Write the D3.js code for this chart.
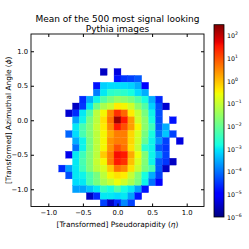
<!DOCTYPE html>
<html>
<head>
<meta charset="utf-8">
<script src="https://cdn.jsdelivr.net/npm/d3@7"></script>
<style>
  body { margin: 0; background: #fff; }
  text { font-family: "DejaVu Sans", sans-serif; fill: #000; }
</style>
</head>
<body>
<svg id="chart" width="249" height="249"></svg>
<script>
// bin centres of the 25x25 jet image
const etaCenters = [-1.2, -1.1, -1.0, -0.9, -0.8, -0.7, -0.6, -0.5, -0.4, -0.3, -0.2, -0.1, 0.0,
  0.1, 0.2, 0.3, 0.4, 0.5, 0.6, 0.7, 0.8, 0.9, 1.0, 1.1, 1.2];
const phiCenters = [1.2, 1.1, 1.0, 0.9, 0.8, 0.7, 0.6, 0.5, 0.4, 0.3, 0.2, 0.1, 0.0,
  -0.1, -0.2, -0.3, -0.4, -0.5, -0.6, -0.7, -0.8, -0.9, -1.0, -1.1, -1.2];

// log10 of the mean pixel intensity, rows top (phi = 1.2) to bottom, null = empty pixel
const n = null;
const meanLog10 = [
  [n,n,n,n,n,n,n,n,n,n,n,n,n,n,n,n,n,n,n,n,n,n,n,n,n],
  [n,n,n,n,n,n,n,n,n,n,n,n,n,n,n,n,n,n,n,n,n,n,n,n,n],
  [n,n,n,n,n,n,n,n,n,n,n,n,n,n,n,n,n,n,n,n,n,n,n,n,n],
  [n,n,n,n,n,n,n,n,n,n,n,n,n,n,n,n,n,n,n,n,n,n,n,n,n],
  [n,n,n,n,n,n,n,n,n,n,n,n,n,n,n,n,n,n,n,n,n,n,n,n,n],
  [n,n,n,n,n,n,n,n,n,n,-5.5,n,-5.3,n,n,n,n,n,n,n,n,n,n,n,n],
  [n,n,n,n,n,n,n,n,n,n,n,n,-4.8,-4.5,-4.4,-4.2,n,n,n,n,n,n,n,n,n],
  [n,n,n,n,n,n,n,n,n,-4.8,-3.2,-3.1,-3.1,-3.1,-3.2,-3.5,-5.0,n,n,n,n,n,n,n,n],
  [n,n,n,n,n,n,n,n,n,-3.9,-3.0,-2.6,-2.5,-2.6,-2.8,-3.1,-3.5,n,n,n,n,n,n,n,n],
  [n,n,n,n,n,n,n,-4.6,-3.5,-2.9,-2.2,-1.8,-1.5,-1.6,-1.8,-2.2,-2.8,-3.5,-4.6,n,n,n,n,n,n],
  [n,n,n,n,n,n,-5.5,-4.5,-3.0,-1.9,-1.3,-1.0,-0.4,-0.5,-0.9,-1.6,-2.2,-3.2,-4.3,-5.4,n,n,n,n,n],
  [n,n,n,n,n,-5.4,-4.6,-3.0,-2.2,-1.1,-0.5,0.5,1.3,0.8,-0.4,-1.0,-1.8,-2.9,-4.3,n,n,n,n,n,n],
  [n,n,n,n,n,n,-3.6,-2.9,-1.8,-1.1,-0.3,0.7,2.3,1.5,0.3,-0.9,-1.6,-2.8,-4.3,n,-4.8,n,n,n,n],
  [n,n,n,n,n,n,-3.0,-2.3,-1.7,-1.0,-0.4,0.5,1.5,1.0,0.3,-0.5,-1.6,-2.4,-4.2,-3.5,n,n,n,n,n],
  [n,n,n,n,n,-4.1,-3.1,-2.3,-1.7,-1.1,-0.5,0.2,0.6,0.6,-0.2,-0.8,-1.8,-2.8,-4.0,-3.3,-4.4,n,n,n,n],
  [n,n,n,n,n,n,-3.5,-2.9,-1.8,-1.1,-0.5,0.4,0.6,0.6,-0.2,-0.9,-2.0,-2.9,-3.7,-4.4,n,-5.3,n,n,n],
  [n,n,n,n,n,n,-4.0,-2.9,-1.8,-1.1,-0.5,0.4,1.0,0.7,-0.3,-1.0,-2.6,-2.9,-4.2,-4.5,n,n,n,n,n],
  [n,n,n,n,n,-5.2,-3.0,-2.4,-1.7,-1.1,-0.1,0.6,1.6,1.5,0.2,-0.6,-1.7,-2.9,-3.6,-4.4,n,n,n,n,n],
  [n,n,n,n,n,n,-3.0,-2.3,-1.7,-1.0,-0.5,0.6,1.5,1.3,0.0,-0.8,-1.7,-2.9,-4.2,-4.5,-5.5,n,n,n,n],
  [n,n,n,n,-4.6,-3.6,-3.0,-2.4,-1.7,-1.1,-0.8,-0.1,0.7,0.5,-0.3,-1.0,-1.8,-2.3,-4.2,-5.5,n,n,n,n,n],
  [n,n,n,n,n,-4.3,-3.0,-2.9,-2.3,-1.8,-1.1,-0.5,-0.3,-0.4,-1.0,-1.7,-2.8,-3.5,-4.4,n,n,n,n,n,n],
  [n,n,n,n,n,n,-3.1,-3.0,-2.3,-1.8,-1.3,-1.0,-0.6,-0.9,-1.3,-1.8,-2.9,-4.0,-5.0,n,n,n,n,n,n],
  [n,n,n,n,n,n,-3.6,-3.6,-3.3,-3.0,-2.5,-2.8,-2.2,-2.8,-3.0,-3.6,-4.8,n,n,n,n,n,n,n,n],
  [n,n,n,n,n,n,n,n,-5.5,-4.6,-3.0,-3.0,-3.1,-3.0,-3.6,-4.8,n,n,n,n,n,n,n,n,n],
  [n,n,n,n,n,n,n,n,n,n,-4.4,-5.5,-4.6,-3.8,-4.4,n,n,n,n,n,n,n,n,n,n]
];

const xTicks = [-1.0, -0.5, 0.0, 0.5, 1.0];
const yTicks = [-1.0, -0.5, 0.0, 0.5, 1.0];
const cbarTicks = [1e-6, 1e-5, 1e-4, 1e-3, 1e-2, 1e-1, 1e0, 1e1, 1e2];
const cbarMin = 1e-6, cbarMax = 305;
const binWidth = 0.1;

const svg = d3.select("#chart");
svg.append("rect").attr("width", 249).attr("height", 249).attr("fill", "#fff");

var plot = { left: 31, right: 204, top: 34, bottom: 206.5 };

var x = d3.scaleLinear().domain([-1.25, 1.25]).range([plot.left, plot.right]);
var y = d3.scaleLinear().domain([-1.25, 1.25]).range([plot.bottom, plot.top]);

// matplotlib "jet"
const jetR = d3.scaleLinear().domain([0, 0.35, 0.66, 0.89, 1]).range([0, 0, 1, 1, 0.5]).clamp(true);
const jetG = d3.scaleLinear().domain([0, 0.125, 0.375, 0.64, 0.91, 1]).range([0, 0, 1, 1, 0, 0]).clamp(true);
const jetB = d3.scaleLinear().domain([0, 0.11, 0.34, 0.65, 1]).range([0.5, 1, 1, 0, 0]).clamp(true);
const jet = t => d3.rgb(255 * jetR(t), 255 * jetG(t), 255 * jetB(t)).formatHex();
const norm = d3.scaleLog().domain([cbarMin, cbarMax]).range([0, 1]).clamp(true);

// cells
var cells = [];
meanLog10.forEach((row, i) => {
  row.forEach((e, j) => {
    if (e !== null) cells.push({ eta: etaCenters[j], phi: phiCenters[i], value: Math.pow(10, e) });
  });
});

svg.append("g").selectAll("rect")
  .data(cells)
  .enter().append("rect")
  .attr("x", d => x(d.eta - binWidth / 2))
  .attr("y", d => y(d.phi + binWidth / 2))
  .attr("width", d => x(d.eta + binWidth / 2) - x(d.eta - binWidth / 2))
  .attr("height", d => y(d.phi - binWidth / 2) - y(d.phi + binWidth / 2))
  .attr("fill", d => jet(norm(d.value)))
  .attr("stroke", d => jet(norm(d.value)))
  .attr("stroke-width", 0.3);

// axes: ticks inward on all sides, matplotlib style
const fmt = v => d3.format(".1f")(v).replace("-", "\u2212");
const tickLen = 3;
svg.append("g")
  .attr("transform", "translate(0," + plot.bottom + ")")
  .call(d3.axisBottom(x).tickValues(xTicks).tickSize(-tickLen).tickPadding(4).tickFormat(fmt))
  .call(g => g.select(".domain").remove())
  .call(g => g.selectAll("text").attr("font-size", 6.8).attr("font-family", "DejaVu Sans"));
svg.append("g")
  .attr("transform", "translate(0," + plot.top + ")")
  .call(d3.axisTop(x).tickValues(xTicks).tickSize(-tickLen).tickFormat(""))
  .call(g => g.select(".domain").remove());
svg.append("g")
  .attr("transform", "translate(" + plot.left + ",0)")
  .call(d3.axisLeft(y).tickValues(yTicks).tickSize(-tickLen).tickPadding(3).tickFormat(fmt))
  .call(g => g.select(".domain").remove())
  .call(g => g.selectAll("text").attr("font-size", 6.8).attr("font-family", "DejaVu Sans"));
svg.append("g")
  .attr("transform", "translate(" + plot.right + ",0)")
  .call(d3.axisRight(y).tickValues(yTicks).tickSize(-tickLen).tickFormat(""))
  .call(g => g.select(".domain").remove());

svg.append("rect")
  .attr("x", plot.left).attr("y", plot.top)
  .attr("width", plot.right - plot.left).attr("height", plot.bottom - plot.top)
  .attr("fill", "none").attr("stroke", "#000").attr("stroke-width", 0.9);

// title
svg.append("text").attr("x", 117.5).attr("y", 21.5).attr("text-anchor", "middle")
  .attr("font-size", 9).text("Mean of the 500 most signal looking");
svg.append("text").attr("x", 117.5).attr("y", 31.5).attr("text-anchor", "middle")
  .attr("font-size", 9).text("Pythia images");

// axis labels
var xl = svg.append("text").attr("x", (plot.left + plot.right) / 2).attr("y", 227)
  .attr("text-anchor", "middle").attr("font-size", 7.4);
xl.append("tspan").text("[Transformed] Pseudorapidity (");
xl.append("tspan").attr("font-style", "italic").text("\u03b7");
xl.append("tspan").text(")");

var yl = svg.append("text")
  .attr("transform", "translate(10.5," + (plot.top + plot.bottom) / 2 + ") rotate(-90)")
  .attr("text-anchor", "middle").attr("font-size", 7.4);
yl.append("tspan").text("[Transformed] Azimuthal Angle (");
yl.append("tspan").attr("font-style", "italic").text("\u03d5");
yl.append("tspan").text(")");

// colorbar
var cb = { left: 214, width: 10, top: 24.7, bottom: 217 };
var cy = d3.scaleLog().domain([cbarMin, cbarMax]).range([cb.bottom, cb.top]);

var grad = svg.append("defs").append("linearGradient")
  .attr("id", "jetGrad").attr("x1", 0).attr("y1", 1).attr("x2", 0).attr("y2", 0);
const stops = [0, 0.11, 0.125, 0.34, 0.35, 0.375, 0.64, 0.65, 0.66, 0.89, 0.91, 1];
grad.selectAll("stop").data(stops).enter().append("stop")
  .attr("offset", d => d).attr("stop-color", d => jet(d));

svg.append("rect")
  .attr("x", cb.left).attr("y", cb.top).attr("width", cb.width).attr("height", cb.bottom - cb.top)
  .attr("fill", "url(#jetGrad)").attr("stroke", "#000").attr("stroke-width", 0.8);

var cbLabels = svg.append("g").selectAll("text")
  .data(cbarTicks)
  .enter().append("text")
  .attr("x", cb.left + cb.width + 3)
  .attr("y", d => cy(d) + 2.5)
  .attr("font-size", 6.3);
cbLabels.append("tspan").text("10");
cbLabels.append("tspan").attr("dy", -3).attr("font-size", 4.6)
  .text(d => String(Math.round(Math.log10(d))).replace("-", "\u2212"));
</script>
</body>
</html>
